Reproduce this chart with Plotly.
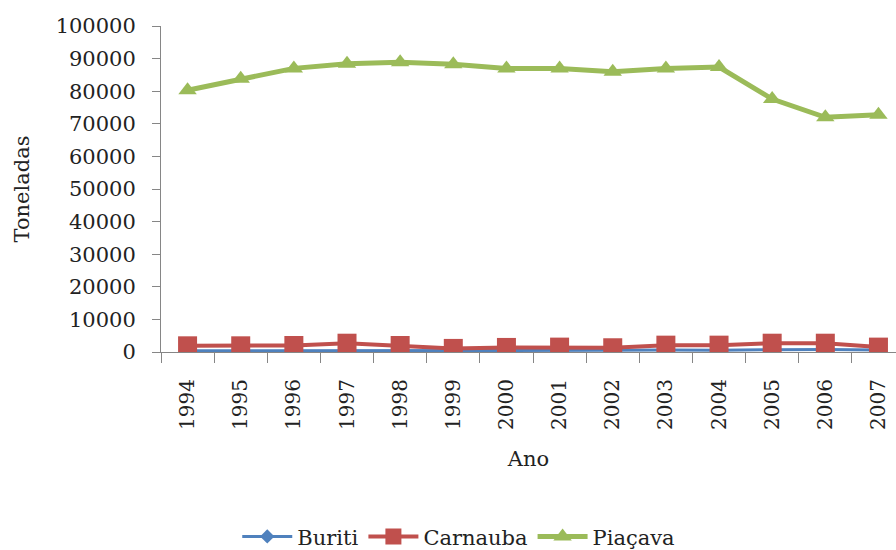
import plotly.graph_objects as go

anos = ["1994","1995","1996","1997","1998","1999","2000","2001","2002","2003","2004","2005","2006","2007"]
buriti = [400, 400, 500, 300, 400, 500, 500, 500, 500, 600, 500, 700, 800, 600]
carnauba = [1900, 1900, 2000, 2700, 2000, 1100, 1400, 1500, 1300, 2100, 2100, 2700, 2700, 1500]
piacava = [80300, 83800, 87000, 88400, 88900, 88300, 87000, 87000, 86000, 87000, 87400, 77600, 72000, 72800]

serif = "DejaVu Serif"
txt = "#222222"

fig = go.Figure()
fig.add_trace(go.Scatter(x=anos, y=buriti, name="Buriti", mode="lines+markers",
                         line=dict(color="#4F81BD", width=3),
                         marker=dict(symbol="diamond", size=11, color="#4F81BD")))
fig.add_trace(go.Scatter(x=anos, y=carnauba, name="Carnauba", mode="lines+markers",
                         line=dict(color="#C0504D", width=4),
                         marker=dict(symbol="square", size=19, color="#C0504D")))
fig.add_trace(go.Scatter(x=anos, y=piacava, name="Piaçava", mode="lines+markers",
                         line=dict(color="#9BBB59", width=5),
                         marker=dict(symbol="triangle-up", size=16, color="#9BBB59")))

fig.update_layout(
    width=896, height=550,
    margin=dict(l=161, r=0, t=26, b=198),
    paper_bgcolor="white", plot_bgcolor="white",
    font=dict(family=serif, size=20, color=txt),
    showlegend=True,
    legend=dict(orientation="h", xref="container", yref="container",
                x=0.512, xanchor="center", y=0.024, yanchor="middle",
                font=dict(family=serif, size=21, color=txt), itemwidth=50,
                tracegroupgap=0),
    xaxis=dict(type="category", range=[-0.5, 13.33],
               showline=True, linecolor="#868686", linewidth=1,
               ticks="outside", ticklen=10, tickcolor="#868686", tickson="boundaries",
               tickangle=-90, tickfont=dict(family=serif, size=20, color=txt),
               ticklabelstandoff=18,
               showgrid=False, zeroline=False,
               title=dict(text="Ano", font=dict(family=serif, size=21, color=txt), standoff=22)),
    yaxis=dict(range=[0, 100000], dtick=10000, tickformat="d",
               showline=True, linecolor="#868686", linewidth=1,
               ticks="outside", ticklen=8, tickcolor="#868686",
               ticklabelstandoff=12,
               tickfont=dict(family=serif, size=21, color=txt),
               showgrid=False, zeroline=False,
               title=dict(text="Toneladas", font=dict(family=serif, size=21, color=txt), standoff=20)),
)

fig.write_html("out.html")
